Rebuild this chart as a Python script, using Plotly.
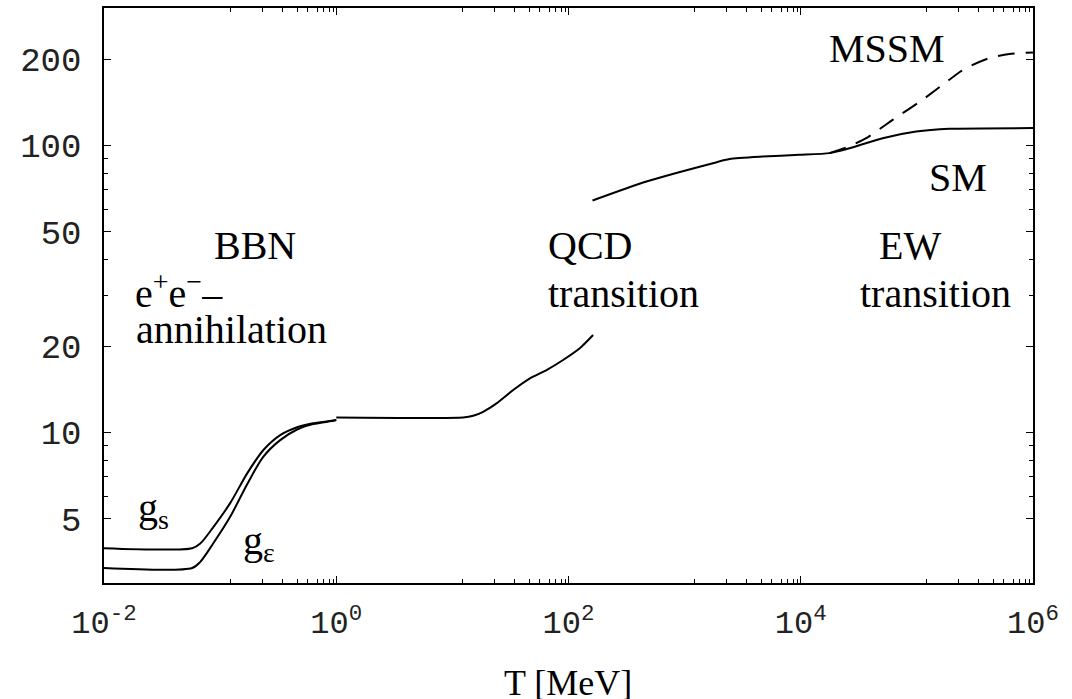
import plotly.graph_objects as go

# ---- data ----
T_low = [0.01, 0.0575, 0.0675, 0.0871, 0.122, 0.171, 0.235, 0.329, 0.46, 0.632, 0.94, 1.0]
g_s = [3.95, 3.95, 4.10, 4.67, 5.67, 7.20, 8.67, 9.79, 10.43, 10.77, 11.00, 11.04]
g_eps = [3.37, 3.37, 3.54, 4.10, 5.08, 6.60, 8.22, 9.40, 10.24, 10.69, 10.98, 11.04]

T_mid = [1.0, 12.4, 15.1, 18.4, 24.0, 33.4, 46.5, 64.7, 89.9, 125, 163]
g_mid = [11.28, 11.28, 11.43, 11.80, 12.62, 14.05, 15.43, 16.50, 17.88, 19.64, 21.85]

T_hi = [161, 469, 1754, 2442, 4690, 9730, 17700, 26300, 50800, 98600, 190000, 1e6]
g_sm = [64.3, 74.9, 86.8, 89.7, 91.5, 92.8, 94.1, 97.9, 106.1, 111.9, 114.4, 115.0]

T_mssm = [17700, 26300, 36600, 61900, 112000, 190000, 265000, 421000, 625000, 1e6]
g_mssm = [94.1, 99.5, 106.1, 122.9, 144.4, 169.6, 186.3, 201.8, 208.4, 211.1]

x_major = [1e-2, 1e0, 1e2, 1e4, 1e6]
x_major_text = ["10<sup>-2</sup>", "10<sup>0</sup>", "10<sup>2</sup>", "10<sup>4</sup>", "10<sup>6</sup>"]
x_minor_mant = [0.122, 0.23, 0.342, 0.46, 0.561, 0.684, 0.77, 0.867, 0.939]
y_major = [5, 10, 20, 50, 100, 200]
y_minor = [6, 7, 8, 9, 30, 40, 60, 70, 80, 90]

x_minor = [m * d for d in [1e0, 1e2, 1e4, 1e6] for m in x_minor_mant]

line = dict(color="black", width=2)
fig = go.Figure()
fig.add_trace(go.Scatter(x=T_low, y=g_s, mode="lines", line=dict(line, shape="spline", smoothing=0.8)))
fig.add_trace(go.Scatter(x=T_low, y=g_eps, mode="lines", line=dict(line, shape="spline", smoothing=0.8)))
fig.add_trace(go.Scatter(x=T_mid, y=g_mid, mode="lines", line=dict(line, shape="spline", smoothing=0.6)))
fig.add_trace(go.Scatter(x=T_hi, y=g_sm, mode="lines", line=dict(line, shape="spline", smoothing=0.6)))
fig.add_trace(go.Scatter(x=T_mssm, y=g_mssm, mode="lines",
                         line=dict(color="black", width=2, dash="17px,11px", shape="spline", smoothing=0.6)))

L, R, T, B = 104, 39, 8, 116
W, H = 1072, 699
pw, ph = W - L - R, H - T - B


def px(x):
    return (x - L) / pw


def py(y):
    return (H - B - y) / ph


serif = dict(family="Liberation Serif", size=40, color="black")
ann = [
    ("MSSM", 887, 48, "center", None),
    ("SM", 958, 177, "center", None),
    ("BBN", 255, 245, "center", None),
    ("e<sup>+</sup>e<sup>−</sup>–", 133, 291, "left", 38),
    ("annihilation", 134, 329, "left", 38),
    ("QCD", 546, 245, "left", None),
    ("transition", 546, 293, "left", None),
    ("EW", 877, 245, "left", None),
    ("transition", 858, 293, "left", None),
    ("g<sub>s</sub>", 136, 510, "left", None),
    ("g<sub>ε</sub>", 241, 543, "left", None),
]
annotations = []
for t, x, y, a, h in ann:
    d = dict(text=t, x=px(x), y=py(y), xref="paper", yref="paper", xanchor=a,
             yanchor="middle", showarrow=False, font=serif)
    if h:
        d["height"] = h
    annotations.append(d)
annotations.append(dict(text="T [MeV]", x=px(568), y=py(683), xref="paper", yref="paper",
                        xanchor="center", yanchor="middle", showarrow=False,
                        font=dict(family="Liberation Serif", size=36, color="black")))

fig.update_layout(
    width=W, height=H,
    margin=dict(l=L, r=R, t=T, b=B, autoexpand=False),
    paper_bgcolor="white", plot_bgcolor="white",
    showlegend=False,
    annotations=annotations,
    xaxis=dict(
        type="log", range=[-2, 6], automargin=False,
        tickvals=x_major, ticktext=x_major_text,
        ticks="inside", ticklen=7, tickwidth=1, tickcolor="black",
        minor=dict(tickvals=x_minor, ticks="inside", ticklen=4, tickwidth=1, tickcolor="black"),
        showgrid=False, zeroline=False,
        showline=True, linecolor="black", linewidth=1.5, mirror="ticks",
        tickfont=dict(family="Liberation Mono", size=32, color="#222"),
        ticklabelstandoff=10,
    ),
    yaxis=dict(
        type="log", range=[0.4752, 2.4794], automargin=False,
        tickvals=y_major, ticktext=[str(v) for v in y_major],
        ticks="inside", ticklen=7, tickwidth=1, tickcolor="black",
        minor=dict(tickvals=y_minor, ticks="inside", ticklen=4, tickwidth=1, tickcolor="black"),
        showgrid=False, zeroline=False,
        showline=True, linecolor="black", linewidth=1.5, mirror="ticks",
        tickfont=dict(family="Liberation Mono", size=34, color="#222"),
        ticklabelstandoff=14,
    ),
)

fig.write_html("out.html")
